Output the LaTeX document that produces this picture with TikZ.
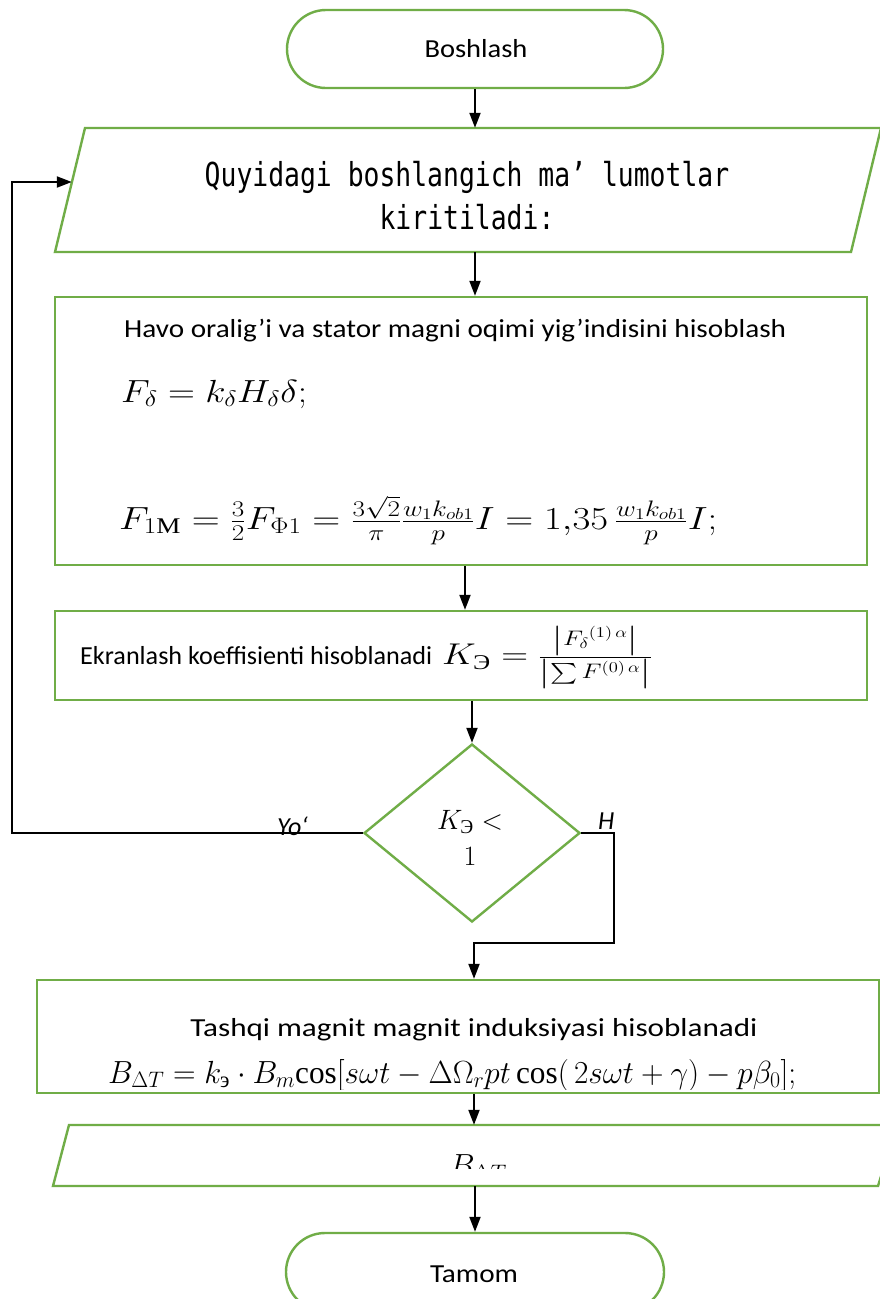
\RequirePackage{fix-cm}
\documentclass[tikz,border=0pt]{standalone}
\usepackage{fontspec}
\usepackage{amsmath}
\usepackage{graphicx}
\setmainfont{Carlito}
\newfontfamily\monof{DejaVu Sans Mono}
\newfontfamily\cyr{Liberation Serif}
\usetikzlibrary{arrows.meta,shapes.geometric,shapes.misc}
\definecolor{grn}{HTML}{70AD47}
\newcommand{\fsz}[1]{\fontsize{#1}{1.2\dimexpr#1pt\relax}\selectfont}
\newcommand{\fitw}[2]{\resizebox{#1}{\height}{#2}}
\newcommand{\cyrt}[1]{\text{\cyr\upshape\mdseries #1}}
\newcommand{\rcos}{\text{\cyr\upshape\mdseries cos}}
\tikzset{
  box/.style={draw=grn, line width=2.4pt},
  term/.style={box, rounded rectangle, inner sep=0pt},
  rectbox/.style={box, rectangle, inner sep=0pt},
  ghost/.style={rectangle, inner sep=0pt},
  conn/.style={draw=black, line width=2pt},
  arr/.style={conn, -{Triangle[length=15pt,width=11pt]}},
  txt/.style={inner sep=0pt, font=\fsz{26}},
  mth/.style={inner sep=0pt, font=\fsz{32}},
}
\begin{document}
\begin{tikzpicture}[x=1pt,y=-1pt]
\useasboundingbox (0,0) rectangle (880,1299);
\clip (0,0) rectangle (880,1299);
\fill[white] (0,0) rectangle (880,1299);

% start
\node[term, minimum width=376pt, minimum height=78pt] (start) at (475,49) {};
\node[txt, anchor=base] (starttxt) at (476,57) {\fitw{103pt}{Boshlash}};

% input parallelogram
\draw[box] (85,128) -- (881,128) -- (851,252) -- (55,252) -- cycle;
\node[ghost, minimum width=806pt, minimum height=124pt] (inp) at (475,190) {};
\node[inner sep=0pt, align=center, font=\monof\fontsize{33}{43}\selectfont] (inptxt) at (467,196)
  {\scalebox{0.8}[1]{Quyidagi boshlangich ma’ lumotlar}\\\scalebox{0.8}[1]{kiritiladi:}};

% box 1
\node[rectbox, minimum width=812pt, minimum height=268pt] (box1) at (461,431) {};
\node[txt, anchor=base west] (t1) at (124,337) {\fitw{662pt}{Havo oralig’i va stator magni oqimi yig’indisini hisoblash}};
\node[mth, anchor=base west] (f1) at (121,402)
  {\fitw{186pt}{$F_\delta = k_\delta H_\delta \delta;$}};
\node[mth, anchor=base west] (f2) at (119,529)
  {\fitw{598pt}{$F_{1\cyrt{М}} = \frac{3}{2}F_{\Phi 1} = \frac{3\sqrt{2}}{\pi}\frac{w_1k_{ob1}}{p}I = 1{,}35\,\frac{w_1k_{ob1}}{p}I;$}};

% box 2
\node[rectbox, minimum width=812pt, minimum height=89pt] (box2) at (461,655.5) {};
\node[txt, anchor=base west] (t2) at (80,664)
  {\fitw{352pt}{Ekranlash koeffisienti hisoblanadi}};
\node[inner sep=0pt, anchor=west, font=\fsz{30}] (f4) at (442,657)
  {\fitw{210pt}{$K_{\cyrt{Э}} = \frac{\left|{F_\delta}^{(1)\,\alpha}\right|}{\left|\sum F^{(0)\,\alpha}\right|}$}};

% decision
\node[box, diamond, minimum width=216pt, minimum height=178pt, inner sep=0pt, aspect=1.2] (dec) at (472,833) {};
\node[inner sep=0pt, align=center, font=\fsz{28}] (dectxt) at (470,838)
  {$K_{\cyrt{Э}} <$\\[2pt]$1$};
\node[inner sep=0pt, anchor=base west, font=\itshape\fsz{26}] (yo) at (277,835) {Yo‘};
\node[inner sep=0pt, anchor=base west, font=\itshape\fsz{26}] (hh) at (598,829) {H};

% box 3
\node[rectbox, minimum width=842pt, minimum height=113pt] (box3) at (458,1036.5) {};
\node[txt, anchor=base] (t3) at (474,1036) {\fitw{567pt}{Tashqi magnit magnit induksiyasi hisoblanadi}};
\begin{scope}
\clip (40,982) rectangle (876,1089);
\node[mth, anchor=base west] (f3) at (108,1083)
  {\fitw{688pt}{$B_{\Delta T} = k_{\cyrt{э}}\cdot B_m\rcos[s\omega t-\Delta\Omega_r pt\,\rcos(\,2s\omega t+\gamma)-p\beta_0];$}};
\end{scope}

% output parallelogram
\draw[box] (69,1125) -- (897,1125) -- (878,1186) -- (53,1186) -- cycle;
\node[ghost, minimum width=828pt, minimum height=61pt] (out) at (475,1155.5) {};
\begin{scope}
\clip (300,1130) rectangle (650,1168);
\node[mth, anchor=base] (outtxt) at (478,1176) {$B_{\Delta T}$};
\end{scope}

% end
\node[term, minimum width=378pt, minimum height=78pt] (end) at (475,1272) {};
\node[txt, anchor=base] (endtxt) at (474,1282) {\fitw{88pt}{Tamom}};

% connectors
\draw[arr] (start.south) -- (inp.north);
\draw[arr] (inp.south) -- (inp.south |- box1.north);
\draw[arr] ([xshift=4pt]box1.south) -- ([xshift=4pt]box2.north);
\draw[arr] (dec.north |- box2.south) -- (dec.north);
\draw[arr] (dec.west) -- (12,833) |- ([yshift=8pt]inp.west);
\coordinate (j) at (614,943);
\coordinate (j2) at (474,943);
\draw[arr] (dec.east) -| (j) -- (j2) -- (j2 |- box3.north);
\draw[arr] (j2 |- box3.south) -- (j2 |- out.north);
\draw[arr] (out.south) -- (end.north);
\end{tikzpicture}
\end{document}
